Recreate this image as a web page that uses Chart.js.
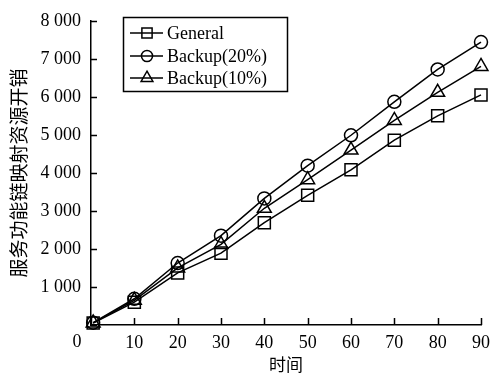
<!DOCTYPE html>
<html>
<head>
<meta charset="utf-8">
<script src="https://cdn.jsdelivr.net/npm/chart.js@4/dist/chart.umd.min.js"></script>
<style>
  html, body { margin: 0; padding: 0; background: #fff; }
  #wrap { width: 497px; height: 379px; }
</style>
</head>
<body>
<div id="wrap"><canvas id="resChart"></canvas></div>
<script>
// données
const timePoints = [0.5, 10, 20, 30, 40, 50, 60, 70, 80, 90];
const general = [50, 600, 1370, 1890, 2690, 3410, 4080, 4860, 5500, 6050];
const backup20 = [60, 690, 1630, 2350, 3330, 4190, 4990, 5870, 6720, 7440];
const backup10 = [55, 650, 1500, 2120, 3070, 3820, 4600, 5380, 6120, 6800];
const seriesNames = ["General", "Backup(20%)", "Backup(10%)"];
const xTicks = [0, 10, 20, 30, 40, 50, 60, 70, 80, 90];
const yTicks = [0, 1000, 2000, 3000, 4000, 5000, 6000, 7000, 8000];

const serif = "'Liberation Serif', 'Times New Roman', serif";
const cjk = "'Noto Sans CJK SC', sans-serif";

function toPoints(values) {
    return values.map((v, i) => ({ x: timePoints[i], y: v }));
}
function fmt(v) {
    return String(v).replace(/\B(?=(\d{3})+(?!\d))/g, " ");
}

function makeSet(label, values, style, radius) {
    return {
        label: label,
        data: toPoints(values),
        borderColor: "#000",
        borderWidth: 1.5,
        backgroundColor: "rgba(0,0,0,0)",
        pointStyle: style,
        pointRadius: radius,
        pointBorderWidth: 1.5,
        pointBorderColor: "#000",
        pointBackgroundColor: "rgba(0,0,0,0)",
        tension: 0,
        fill: false,
        clip: false
    };
}

// ticks vers l'intérieur + légende encadrée + "0" à l'origine
const axisExtras = {
    id: "axisExtras",
    afterDraw(chart) {
        const ctx = chart.ctx;
        const xs = chart.scales.x, ys = chart.scales.y;
        const area = chart.chartArea;
        ctx.save();
        ctx.strokeStyle = "#000";
        ctx.lineWidth = 1.5;
        ctx.beginPath();
        xTicks.forEach(t => {
            const px = Math.round(xs.getPixelForValue(t)) + 0.5;
            ctx.moveTo(px, area.bottom);
            ctx.lineTo(px, area.bottom - 7);
        });
        yTicks.forEach(t => {
            const py = Math.round(ys.getPixelForValue(t)) + 0.5;
            ctx.moveTo(area.left, py);
            ctx.lineTo(area.left + 6, py);
        });
        ctx.stroke();

        ctx.fillStyle = "#000";
        ctx.font = "18px " + serif;
        ctx.textAlign = "center";
        ctx.textBaseline = "middle";
        ctx.fillText("0", area.left - 14, area.bottom + 17);

        // légende
        const bx = 123, by = 17, bw = 164, bh = 74;
        ctx.lineWidth = 1.5;
        ctx.strokeRect(bx + 0.5, by + 0.5, bw, bh);
        const rows = [33, 56, 78];
        chart.data.datasets.forEach((ds, i) => {
            const cy = by + rows[i] - 17;
            ctx.beginPath();
            ctx.moveTo(bx + 7, cy);
            ctx.lineTo(bx + 40, cy);
            ctx.stroke();
            ctx.fillStyle = "rgba(0,0,0,0)";
            Chart.helpers.drawPoint(ctx, {
                pointStyle: ds.pointStyle,
                radius: ds.pointRadius * 0.85,
                borderWidth: 1.5,
                rotation: 0
            }, bx + 24, cy);
            ctx.fillStyle = "#000";
            ctx.textAlign = "left";
            ctx.fillText(ds.label, bx + 44, cy + 1);
        });
        ctx.restore();
    }
};

const ctx = document.getElementById("resChart").getContext("2d");
new Chart(ctx, {
    type: "line",
    data: {
        datasets: [
            makeSet(seriesNames[0], general, "rect", 8.5),
            makeSet(seriesNames[1], backup20, "circle", 6.5),
            makeSet(seriesNames[2], backup10, "triangle", 8)
        ]
    },
    options: {
        responsive: true,
        maintainAspectRatio: false,
        animation: false,
        layout: { padding: { top: 15, right: 7, left: 0, bottom: 0 } },
        plugins: {
            legend: { display: false },
            tooltip: { enabled: false }
        },
        scales: {
            x: {
                type: "linear",
                min: 0,
                max: 90,
                afterBuildTicks: (s) => { s.ticks = xTicks.map(v => ({ value: v })); },
                afterFit: (s) => { s.height = 54; },
                grid: { display: false, drawTicks: false },
                border: { display: true, color: "#000", width: 1.5 },
                ticks: {
                    color: "#000",
                    padding: 7,
                    maxRotation: 0,
                    font: { family: serif, size: 18 },
                    callback: (v) => v === 0 ? "" : String(v)
                },
                title: {
                    display: true,
                    text: "时间",
                    color: "#000",
                    padding: { top: 0, bottom: 4 },
                    font: { family: cjk, size: 17 }
                }
            },
            y: {
                min: 0,
                max: 8000,
                afterBuildTicks: (s) => { s.ticks = yTicks.map(v => ({ value: v })); },
                afterFit: (s) => { s.width = 91; },
                grid: { display: false, drawTicks: false },
                border: { display: true, color: "#000", width: 1.5 },
                ticks: {
                    color: "#000",
                    padding: 10,
                    font: { family: serif, size: 18 },
                    callback: (v) => v === 0 ? "" : fmt(v)
                },
                title: {
                    display: true,
                    text: "服务功能链映射资源开销",
                    color: "#000",
                    padding: { top: 7, bottom: 0 },
                    font: { family: cjk, size: 19 }
                }
            }
        }
    },
    plugins: [axisExtras]
});
</script>
</body>
</html>
